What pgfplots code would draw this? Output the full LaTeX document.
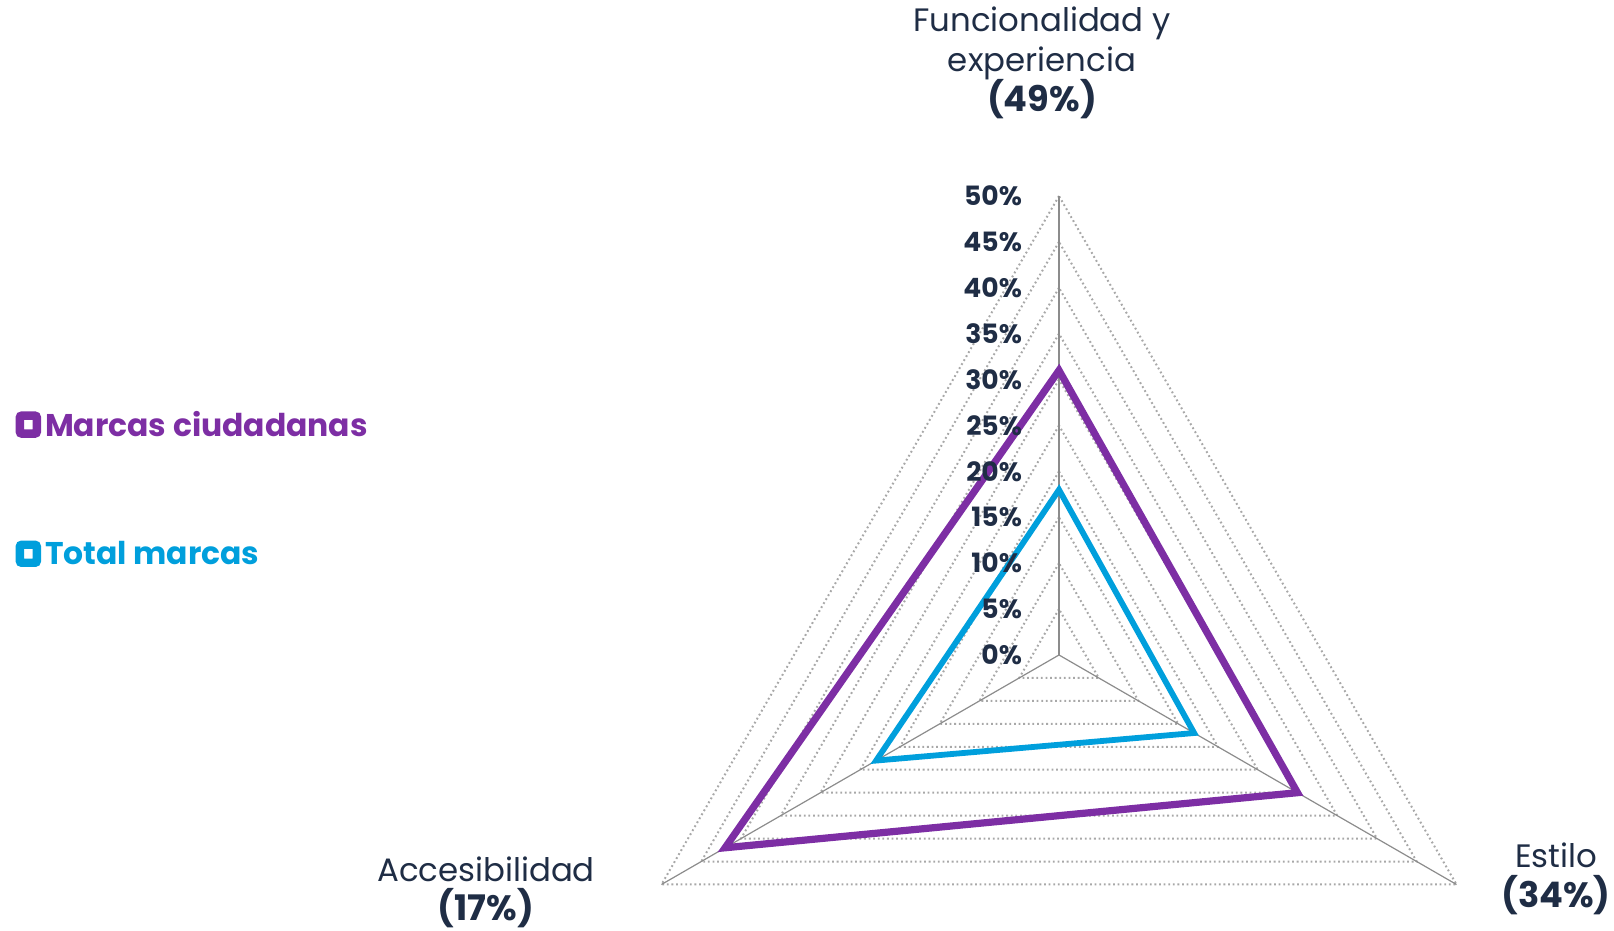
\documentclass[border=0pt]{standalone}
\usepackage{fontspec}
\setmainfont{Poppins}
\usepackage{pgfplots}
\usepgfplotslibrary{polar}
\pgfplotsset{compat=1.18}

\definecolor{mcpurple}{HTML}{7D2EA4}
\definecolor{mcblue}{HTML}{009FDC}
\definecolor{navy}{HTML}{1F2D45}
\definecolor{gridc}{HTML}{A8A8A8}
\definecolor{spoke}{HTML}{8C8C8C}

\begin{document}
\begin{tikzpicture}
  % canvas: 1 px of the reference = 0.5pt
  \path[use as bounding box] (0,0) rectangle (807pt,465.5pt);

  \begin{polaraxis}[
    at={(529.5pt,138pt)}, anchor=origin,
    scale only axis, width=459pt, height=459pt,
    hide axis, xtick=\empty, ytick=\empty,
    ymin=0, ymax=50, clip=false,
    legend style={
      at={(axis description cs:-0.637,0.77)}, anchor=north west,
      draw=none, fill=none, inner sep=0pt, row sep=47pt,
      font=\fontsize{15.7}{18}\selectfont\bfseries,
      cells={anchor=west},
      /tikz/every even column/.append style={column sep=3pt},
    },
    legend image code/.code={
      \draw[#1, line width=4.2pt, fill=white, rounded corners=1pt]
        (2pt,-4pt) rectangle (10.5pt,5pt);
    },
  ]
    % triangular grid
    \pgfplotsinvokeforeach{5,10,...,50}{
      \addplot[forget plot, gridc, line width=1pt, dash pattern=on 0.9pt off 1.4pt]
        coordinates {(90,#1) (210,#1) (330,#1) (90,#1)};
    }
    % spokes
    \addplot[forget plot, spoke, line width=1.3pt] coordinates {(90,0) (90,50)};
    \addplot[forget plot, spoke, line width=0.6pt] coordinates {(210,0) (210,50)};
    \addplot[forget plot, spoke, line width=0.6pt] coordinates {(330,0) (330,50)};

    % series
    \addplot[mcpurple, line width=3.6pt, line join=miter]
      coordinates {(90,31) (330,30) (210,42)} -- cycle;
    \addlegendentry{\textcolor{mcpurple}{Marcas ciudadanas}}
    \addplot[mcblue, line width=2.9pt, line join=miter]
      coordinates {(90,18) (330,17) (210,23)} -- cycle;
    \addlegendentry{\textcolor{mcblue}{Total marcas}}

    % radial tick labels
    \pgfplotsinvokeforeach{0,5,...,50}{
      \node[anchor=east, xshift=-15pt, text=navy,
            font=\fontsize{13.3}{15}\selectfont\bfseries]
        at (axis cs:90,#1) {#1\%};
    }
  \end{polaraxis}

  % category labels
  \begin{scope}[every node/.style={anchor=base, text=navy, inner sep=0pt}]
    \node[font=\fontsize{16.2}{18}\selectfont] at (521pt,449.5pt) {Funcionalidad y};
    \node[font=\fontsize{16.2}{18}\selectfont] at (521pt,429.5pt) {experiencia};
    \node[font=\fontsize{17.6}{22}\selectfont\bfseries] at (521pt,409.5pt) {(49\%)};

    \node[font=\fontsize{16.2}{18}\selectfont] at (778pt,31.5pt) {Estilo};
    \node[font=\fontsize{17.6}{22}\selectfont\bfseries] at (778pt,11.5pt) {(34\%)};

    \node[font=\fontsize{16.2}{18}\selectfont] at (243pt,24.5pt) {Accesibilidad};
    \node[font=\fontsize{17.6}{22}\selectfont\bfseries] at (243pt,5pt) {(17\%)};
  \end{scope}
\end{tikzpicture}
\end{document}
